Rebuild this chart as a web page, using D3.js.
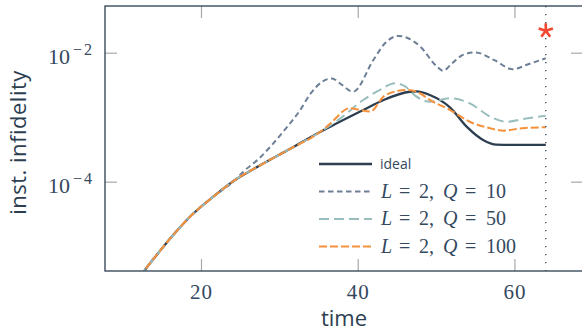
<!DOCTYPE html>
<html>
<head>
<meta charset="utf-8">
<script src="https://cdn.jsdelivr.net/npm/d3@7"></script>
<style>
  html, body { margin: 0; padding: 0; background: #fff; }
  svg { display: block; }
</style>
</head>
<body>
<script>
// shared early part of every run (all curves lie on top of each other here)
var earlyT = [12.2, 12.76, 14.35, 16.26, 18.6, 21.57, 24.34, 27.5, 31.4, 35.2];
var earlyV = [3.2e-6, 4.1e-6, 7.3e-6, 1.4e-5, 2.86e-5, 5.85e-5, 1.06e-4, 1.78e-4, 3.24e-4, 5.9e-4];

var idealT = [36.5, 40.7, 43.3, 46.7, 47.5, 49.2, 51.8, 53.9, 56.0, 57.7, 60, 64];
var idealV = [7.13e-4, 1.29e-3, 1.85e-3, 2.48e-3, 2.51e-3, 2.21e-3, 1.41e-3, 7.13e-4, 4.44e-4, 3.76e-4, 3.71e-4, 3.71e-4];

var q10T = [25.4, 27.5, 29.2, 31.0, 32.6, 34.0, 35.6, 36.7, 38.0, 39.4, 42, 43.5, 45.2, 46.5, 48, 50.0, 50.9, 52, 53.5, 55.0, 57.5, 59.8, 61.5, 64];
var q10V = [1.43e-4, 2.34e-4, 3.89e-4, 7.08e-4, 1.26e-3, 2.34e-3, 3.63e-3, 3.98e-3, 3.16e-3, 2.48e-3, 7.7e-3, 1.41e-2, 1.82e-2, 1.66e-2, 1.24e-2, 6.3e-3, 5.25e-3, 6.76e-3, 9.33e-3, 1.01e-2, 7.59e-3, 5.52e-3, 6.46e-3, 8.18e-3];

var q50T = [37.75, 40.7, 42.8, 44.8, 46.0, 47.5, 49.2, 51.8, 54.3, 56.9, 59.0, 61.5, 64];
var q50V = [9.5e-4, 1.85e-3, 2.63e-3, 3.35e-3, 3.02e-3, 2.08e-3, 1.74e-3, 1.96e-3, 1.64e-3, 1.02e-3, 8.5e-4, 9.55e-4, 1.05e-3];

var q100T = [36.5, 39.0, 40.0, 41.6, 43.3, 44.8, 46.3, 47.8, 49.2, 51.8, 54.3, 56.9, 58.6, 61, 64];
var q100V = [8.0e-4, 1.38e-3, 1.32e-3, 1.22e-3, 2.09e-3, 2.51e-3, 2.64e-3, 2.4e-3, 1.85e-3, 1.29e-3, 8.5e-4, 6.73e-4, 6.18e-4, 6.76e-4, 6.97e-4];

var seriesNames = ["ideal", "q10", "q50", "q100"];
var legendLabels = [null, ["L", "=", "2", ",", "Q", "=", "10"], ["L", "=", "2", ",", "Q", "=", "50"], ["L", "=", "2", ",", "Q", "=", "100"]];

var xTicks = [20, 40, 60];
var yTicks = [1e-4, 1e-2];
var xDomain = [7.75, 68.75];
var yDomain = [Math.pow(10, -5.385), Math.pow(10, -1.276)];

var cutT = 64;          // dotted marker line
var starV = 0.0219;     // red asterisk

var width = 582, height = 335;
var pL = 105, pR = 583, pT = 6, pB = 271;

var ink = "#2c3e50";
var styles = {
	ideal: {color: "#2c3e50", dash: null, w: 2.3},
	q10: {color: "#6c7f96", dash: "5.5,3.5", w: 2},
	q50: {color: "#9abdbd", dash: "10,5", w: 2},
	q100: {color: "#f5913a", dash: "8,3", w: 2}
};

var svg = d3.select("body").append("svg")
		.attr("width", width)
		.attr("height", height)

var x = d3.scaleLinear().domain(xDomain).range([pL, pR]);
var y = d3.scaleLog().domain(yDomain).range([pB, pT]);

var zip = (ts, vs) => ts.map((t, i) => [t, vs[i]]);
var data = {
	ideal: zip(earlyT, earlyV).concat(zip(idealT, idealV)),
	q10: zip(earlyT.slice(0, 7), earlyV.slice(0, 7)).concat(zip(q10T, q10V)),
	q50: zip(earlyT, earlyV).concat(zip(q50T, q50V)),
	q100: zip(earlyT, earlyV).concat(zip(q100T, q100V))
};

svg.append("clipPath").attr("id", "clip")
	.append("rect")
		.attr("x", pL).attr("y", pT)
		.attr("width", pR - pL).attr("height", pB - pT)

// axes: ticks point inwards on all four sides
var tickStyle = g => {
	g.select(".domain").remove();
	g.selectAll(".tick line").attr("stroke", "#a8a8a8").attr("stroke-width", 1.2);
};

svg.append("g")
	.attr("transform", "translate(0," + pB + ")")
	.call(d3.axisBottom(x).tickValues(xTicks).tickSize(-12).tickPadding(13).tickFormat(d3.format("d")))
	.call(tickStyle)
	.call(g => g.selectAll("text")
		.attr("fill", "#34495e")
		.style("font-family", "'Liberation Serif', serif")
		.style("letter-spacing", "1px")
		.style("font-size", "21px"));

svg.append("g")
	.attr("transform", "translate(0," + pT + ")")
	.call(d3.axisTop(x).tickValues(xTicks).tickSize(-12).tickFormat(""))
	.call(tickStyle);

var leftAxis = svg.append("g")
	.attr("transform", "translate(" + pL + ",0)")
	.call(d3.axisLeft(y).tickValues(yTicks).tickSize(-12).tickPadding(13).tickFormat(""))
	.call(tickStyle);

leftAxis.selectAll(".tick text")
	.attr("fill", "#34495e")
	.attr("dy", null)
	.attr("y", 11)
	.style("font-family", "'Liberation Serif', serif")
	.each(function(d) {
		var t = d3.select(this);
		t.append("tspan").style("font-size", "22px").text("10");
		t.append("tspan").style("font-size", "16px").attr("dx", 3).attr("dy", -9).text("\u2212");
		t.append("tspan").style("font-size", "16px").attr("dx", 2)
			.text(Math.round(-Math.log10(d)));
	});

svg.append("g")
	.attr("transform", "translate(" + pR + ",0)")
	.call(d3.axisRight(y).tickValues(yTicks).tickSize(-12).tickFormat(""))
	.call(tickStyle);

// curves
var line = d3.line()
	.x(d => x(d[0]))
	.y(d => y(d[1]))
	.curve(d3.curveMonotoneX);

var plot = svg.append("g").attr("clip-path", "url(#clip)");

plot.selectAll("path.series")
	.data(seriesNames)
	.enter().append("path")
		.attr("class", "series")
		.attr("d", k => line(data[k]))
		.attr("fill", "none")
		.attr("stroke", k => styles[k].color)
		.attr("stroke-width", k => styles[k].w)
		.attr("stroke-dasharray", k => styles[k].dash)
		.attr("stroke-linejoin", "round")

// dotted marker at the end time
plot.append("line")
	.attr("x1", x(cutT)).attr("x2", x(cutT))
	.attr("y1", pT).attr("y2", pB)
	.attr("stroke", ink)
	.attr("stroke-width", 1.3)
	.attr("stroke-dasharray", "1.3,6.7")

// five-armed asterisk
var r = 7.5;
var arms = d3.range(5).map(i => {
	var a = -Math.PI / 2 + i * 2 * Math.PI / 5;
	return "M0,0L" + (r * Math.cos(a)).toFixed(2) + "," + (r * Math.sin(a)).toFixed(2);
}).join("");
svg.append("path")
	.attr("transform", "translate(" + x(cutT) + "," + y(starV) + ")")
	.attr("d", arms)
	.attr("stroke", "#f4472f")
	.attr("stroke-width", 2.6)
	.attr("stroke-linecap", "butt")

// frame
svg.append("rect")
	.attr("x", pL).attr("y", pT)
	.attr("width", pR - pL).attr("height", pB - pT)
	.attr("fill", "none")
	.attr("stroke", ink)
	.attr("stroke-width", 1.3)

// legend
var legX = 319, legY = 164, legStep = 27.5;
var legend = svg.append("g");
seriesNames.forEach((k, i) => {
	var yy = legY + i * legStep;
	legend.append("line")
		.attr("x1", legX).attr("x2", legX + 53)
		.attr("y1", yy).attr("y2", yy)
		.attr("stroke", styles[k].color)
		.attr("stroke-width", styles[k].w)
		.attr("stroke-dasharray", styles[k].dash)
	var txt = legend.append("text")
		.attr("fill", "#34495e");
	if (legendLabels[i] == null) {
		txt.attr("x", 380)
			.attr("y", yy + 5)
			.style("font-family", "'Open Sans', sans-serif")
			.style("font-size", "14px")
			.text("ideal");
	} else {
		var offs = [0, 18, 38, 48, 62, 84, 105];
		txt.style("font-family", "'Liberation Serif', serif")
			.style("font-size", "20px")
			.attr("y", yy + 6);
		legendLabels[i].forEach((p, j) => {
			txt.append("tspan")
				.attr("x", 381 + offs[j])
				.style("font-style", (p == "L" || p == "Q") ? "italic" : "normal")
				.text(p);
		});
	}
});

// axis titles
svg.append("text")
	.attr("x", (pL + pR) / 2)
	.attr("y", 326)
	.attr("text-anchor", "middle")
	.attr("fill", ink)
	.style("font-family", "'Open Sans', sans-serif")
	.style("font-size", "22px")
	.text("time");

svg.append("text")
	.attr("transform", "translate(26," + 142.5 + ") rotate(-90)")
	.attr("text-anchor", "middle")
	.attr("fill", ink)
	.style("font-family", "'Open Sans', sans-serif")
	.style("font-size", "22px")
	.style("letter-spacing", "0.5px")
	.text("inst. infidelity");
</script>
</body>
</html>
